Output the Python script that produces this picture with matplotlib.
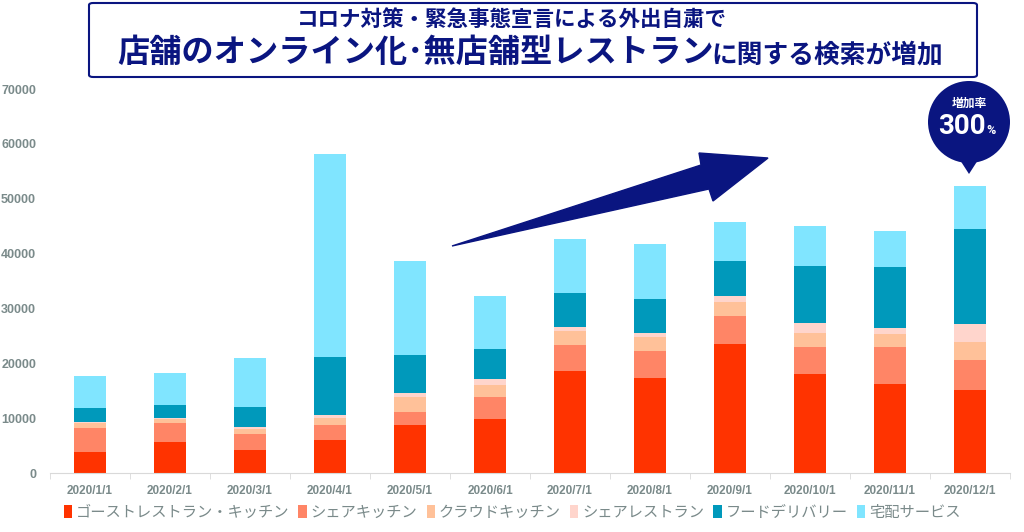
import matplotlib
matplotlib.use("Agg")
import matplotlib.pyplot as plt
from matplotlib.patches import Polygon, Ellipse, FancyBboxPatch
import numpy as np

months = ["2020/1/1", "2020/2/1", "2020/3/1", "2020/4/1", "2020/5/1", "2020/6/1",
          "2020/7/1", "2020/8/1", "2020/9/1", "2020/10/1", "2020/11/1", "2020/12/1"]
series_names = ["ゴーストレストラン・キッチン", "シェアキッチン", "クラウドキッチン",
                "シェアレストラン", "フードデリバリー", "宅配サービス"]
ghost = [3900, 5700, 4200, 6000, 8750, 9800, 18600, 17400, 23600, 18100, 16300, 15200]
share_kitchen = [4250, 3450, 3000, 2750, 2450, 4000, 4800, 4900, 5100, 4900, 6700, 5400]
cloud_kitchen = [1000, 750, 900, 1350, 2700, 2300, 2500, 2500, 2500, 2600, 2400, 3200]
share_rest = [200, 200, 300, 500, 700, 1000, 700, 800, 1100, 1800, 1100, 3300]
delivery = [2450, 2300, 3700, 10500, 7000, 5500, 6200, 6200, 6300, 10300, 11000, 17400]
takuhai = [5900, 5800, 8800, 37000, 17000, 9700, 9800, 9900, 7200, 7400, 6600, 7900]
colors = ["#FF3300", "#FF8566", "#FFC199", "#FFD5CC", "#0099BB", "#80E5FF"]

title1 = "コロナ対策・緊急事態宣言による外出自粛で"
title2_big = "店舗のオンライン化･無店舗型レストラン"
title2_small = "に関する検索が増加"
navy = "#0A1580"
grey = "#7A8A8A"

W, H = 1024, 532
fig = plt.figure(figsize=(W / 100, H / 100), dpi=100)
plt.rcParams["font.family"] = ["Noto Sans CJK JP", "DejaVu Sans"]


def fx(x):
    return x / W


def fy(y):
    return 1 - y / H


ax = fig.add_axes([fx(50), fy(473), fx(1010) - fx(50), fy(89) - fy(473)])
x = np.arange(len(months))
bottom = np.zeros(len(months))
for name, vals, c in zip(series_names, [ghost, share_kitchen, cloud_kitchen, share_rest, delivery, takuhai], colors):
    ax.bar(x, vals, width=0.4, bottom=bottom, color=c, label=name, zorder=2)
    bottom += np.array(vals)

ax.set_xlim(-0.5, len(months) - 0.5)
ax.set_ylim(0, 70000)
ax.set_yticks(np.arange(0, 70001, 10000))
ax.set_yticklabels([str(v) for v in range(0, 70001, 10000)],
                   fontfamily="Liberation Sans", fontweight="bold", fontsize=9, color=grey)
ax.set_xticks(x)
ax.set_xticklabels(months, fontfamily="Liberation Sans", fontweight="bold", fontsize=8.5, color=grey)
ax.tick_params(axis="y", length=0, pad=10)
ax.tick_params(axis="x", length=0, pad=9)
ax.set_xticks(np.arange(-0.5, len(months)), minor=True)
ax.tick_params(axis="x", which="minor", length=4, color="#D9D9D9")
for s in ["top", "right", "left"]:
    ax.spines[s].set_visible(False)
ax.spines["bottom"].set_color("#D9D9D9")

leg = fig.legend(loc="center", bbox_to_anchor=(0.5, fy(512)), ncol=6, frameon=False,
                 fontsize=11, handlelength=0.55, handleheight=0.9, handletextpad=0.25,
                 columnspacing=0.6)
for t in leg.get_texts():
    t.set_color(grey)

# title box
box = FancyBboxPatch((fx(89), fy(77)), fx(977) - fx(89), fy(3) - fy(77),
                     boxstyle="round,pad=0,rounding_size=0.004", transform=fig.transFigure,
                     facecolor="white", edgecolor=navy, linewidth=1.5)
fig.patches.append(box)
fig.text(fx(512), fy(20), title1, ha="center", va="center", fontsize=15.5,
         fontweight="bold", color=navy)
fig.text(fx(117), fy(52), title2_big, ha="left", va="center", fontsize=23.2,
         fontweight="bold", color=navy)
fig.text(fx(711), fy(55), title2_small, ha="left", va="center", fontsize=18.5,
         fontweight="bold", color=navy)

# trend arrow
arrow_pts = [(452, 246), (701, 165), (699, 153), (768, 158), (713, 201), (709, 189)]
fig.patches.append(Polygon([(fx(a), fy(b)) for a, b in arrow_pts], closed=True,
                           transform=fig.transFigure, facecolor=navy, edgecolor=navy))

# bubble
fig.patches.append(Ellipse((fx(969), fy(122)), 82 / W, 82 / H, transform=fig.transFigure,
                           facecolor=navy, edgecolor="none"))
tri = [(960, 160), (978, 160), (969, 174)]
fig.patches.append(Polygon([(fx(a), fy(b)) for a, b in tri], closed=True,
                           transform=fig.transFigure, facecolor=navy, edgecolor="none"))
fig.text(fx(969), fy(103), "増加率", ha="center", va="center", fontsize=8.5,
         color="white", fontweight="bold")
fig.text(fx(962), fy(127), "300", ha="center", va="center", fontsize=20,
         color="white", fontweight="bold", fontfamily="Roboto")
fig.text(fx(991), fy(131), "%", ha="center", va="center", fontsize=9,
         color="white", fontweight="bold", fontfamily="Roboto")

fig.savefig("out.png", dpi=100)
